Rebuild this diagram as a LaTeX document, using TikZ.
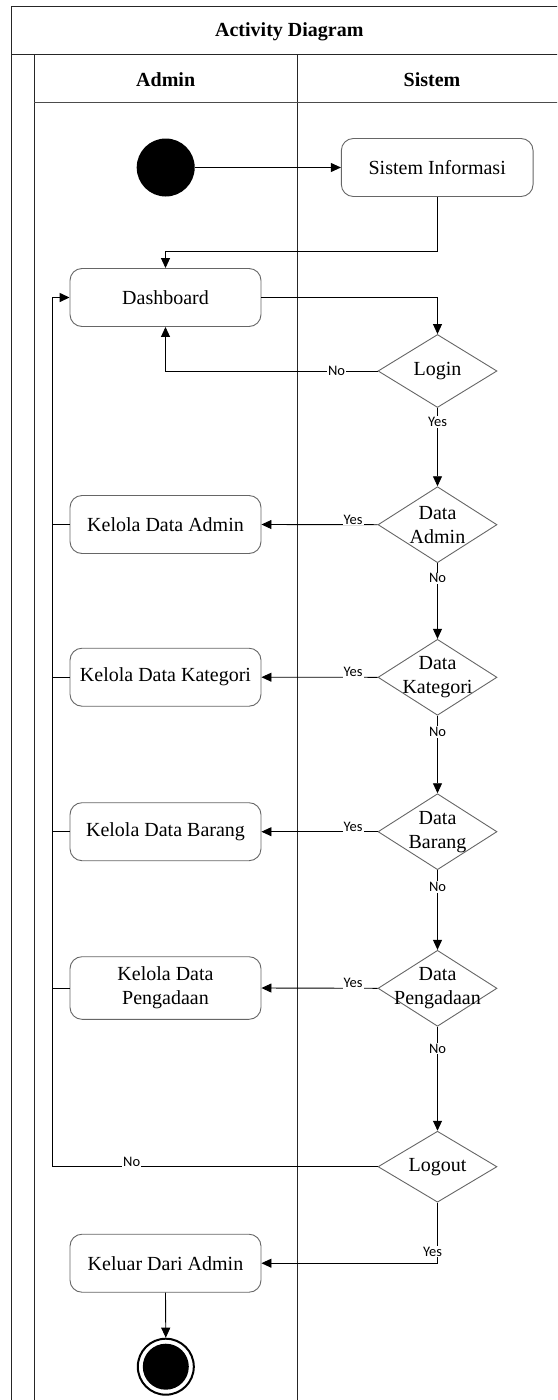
\documentclass[tikz,border=0pt]{standalone}
\usepackage{fontspec}
\setmainfont{Liberation Serif}
\newfontfamily\lblfont{Carlito}
\usetikzlibrary{arrows.meta,shapes.geometric}
\begin{document}
\begin{tikzpicture}[x=1pt,y=-1pt,
  frameline/.style={draw=black!85, line width=1pt},
  act/.style={draw=black!60, line width=0.9pt, rounded corners=12pt, fill=white,
    minimum width=191pt, minimum height=58pt, align=center, inner sep=0pt,
    font=\fontsize{20}{24}\selectfont},
  dec/.style={draw=black!60, line width=0.9pt, diamond, fill=white, inner sep=0pt,
    minimum width=119pt, minimum height=76pt},
  dtxt/.style={align=center, inner sep=0pt, font=\fontsize{20}{24}\selectfont},
  hdr/.style={font=\fontsize{20}{24}\selectfont\bfseries},
  conn/.style={draw=black, line width=0.9pt},
  arr/.style={conn, -{Triangle[length=10pt,width=9pt]}},
  lbl/.style={fill=white, inner sep=1pt, font=\lblfont\fontsize{14.5}{16}\selectfont}
]
\useasboundingbox (0,0) rectangle (557,1400);
\clip (0,0) rectangle (557,1400);
% frame
\draw[frameline] (11,1410) -- (11,6) -- (567,6) -- (567,1410);
\draw[frameline] (11,54) -- (567,54);
\draw[frameline] (34.3,54) -- (34.3,1410);
\draw[frameline] (297,54) -- (297,1410);
\draw[draw=black!70, line width=0.9pt] (34.3,102.3) -- (567,102.3);
\node[hdr] (title) at (289.3,31.7) {Activity Diagram};
\node[hdr] (hadmin) at (165.7,80) {Admin};
\node[hdr] (hsistem) at (432,80) {Sistem};

% nodes
\node[circle, fill=black, minimum size=58pt, inner sep=0pt] (start) at (165.7,167.5) {};
\node[act, minimum width=191.7pt] (sysinfo) at (437.2,167.5) {Sistem Informasi};
\node[act] (dash) at (165.5,297.5) {Dashboard};
\node[dec, minimum height=73pt] (login) at (437.5,371) {};
\node[dtxt] (tlogin) at (login) {Login};
\node[dec] (dadmin) at (437.5,524.7) {};
\node[dtxt] (tdadmin) at (dadmin) {Data\\Admin};
\node[dec] (dkat) at (437.5,677.3) {};
\node[dtxt] (tdkat) at (dkat) {Data\\Kategori};
\node[dec] (dbar) at (437.5,831.7) {};
\node[dtxt] (tdbar) at (dbar) {Data\\Barang};
\node[dec] (dpeng) at (437.5,988.3) {};
\node[dtxt] (tdpeng) at (dpeng) {Data\\Pengadaan};
\node[dec, minimum height=71pt] (logout) at (437.5,1166.7) {};
\node[dtxt] (tlogout) at (logout) {Logout};
\node[act] (kadmin) at (165.5,524.5) {Kelola Data Admin};
\node[act] (kkat) at (165.5,677.2) {Kelola Data Kategori};
\node[act] (kbar) at (165.5,831.7) {Kelola Data Barang};
\node[act, minimum height=62.6pt] (kpeng) at (165.5,988) {Kelola Data\\Pengadaan};
\node[act] (keluar) at (165.5,1263.2) {Keluar Dari Admin};
\node[circle, draw=black, line width=2pt, fill=white, minimum size=56pt, inner sep=0pt] (end) at (165.8,1366.7) {};
\node[circle, fill=black, minimum size=46pt, inner sep=0pt] (endin) at (end) {};
\coordinate (loopb) at (52.3,1166.7);

% connectors
\draw[arr] (start) -- (sysinfo);
\draw[arr] (sysinfo.south) -- ++(0,54) -| (dash.north);
\draw[arr] (dash.east) -| (login.north);
\draw[arr] (login.west) -| node[lbl, pos=0.0965] {No} (dash.south);
\draw[arr] (login.south) -- node[lbl, pos=0.18] {Yes} (dadmin.north);
\draw[arr] (dadmin.west) -- node[lbl, pos=0.21, yshift=5pt] {Yes} (kadmin.east);
\draw[arr] (dadmin.south) -- node[lbl, pos=0.2] {No} (dkat.north);
\draw[arr] (dkat.west) -- node[lbl, pos=0.21, yshift=5pt] {Yes} (kkat.east);
\draw[arr] (dkat.south) -- node[lbl, pos=0.21] {No} (dbar.north);
\draw[arr] (dbar.west) -- node[lbl, pos=0.21, yshift=5pt] {Yes} (kbar.east);
\draw[arr] (dbar.south) -- node[lbl, pos=0.21] {No} (dpeng.north);
\draw[arr] (dpeng.west) -- node[lbl, pos=0.21, yshift=5pt] {Yes} (kpeng.east);
\draw[arr] (dpeng.south) -- node[lbl, pos=0.21] {No} (logout.north);
\draw[conn] (logout.west) -- node[lbl, pos=0.756, yshift=5pt] {No} (loopb);
\draw[arr, line width=1.4pt] (loopb) |- (dash.west);
\draw[conn] (kadmin.west) -- (kadmin.west -| loopb);
\draw[conn] (kkat.west) -- (kkat.west -| loopb);
\draw[conn] (kbar.west) -- (kbar.west -| loopb);
\draw[conn] (kpeng.west) -- (kpeng.west -| loopb);
\draw[arr] (logout.south) |- node[lbl, pos=0.405, xshift=-5pt] {Yes} (keluar.east);
\draw[arr] (keluar.south) -- (end.north);
\end{tikzpicture}
\end{document}
